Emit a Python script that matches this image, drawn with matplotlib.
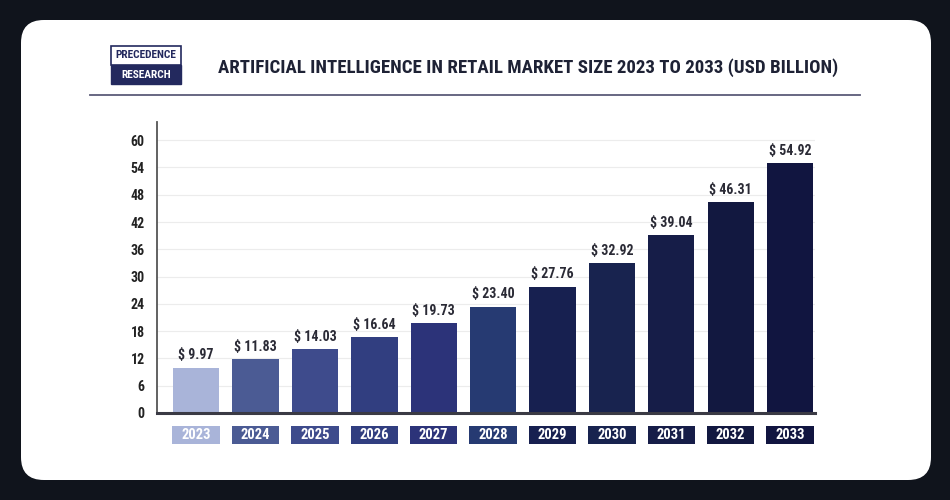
import matplotlib
matplotlib.use("Agg")
import matplotlib.pyplot as plt
from matplotlib import font_manager as fm
from matplotlib.patches import FancyBboxPatch, Rectangle
import matplotlib.transforms as mtransforms
import os

years = ["2023", "2024", "2025", "2026", "2027", "2028", "2029", "2030", "2031", "2032", "2033"]
values = [9.97, 11.83, 14.03, 16.64, 19.73, 23.40, 27.76, 32.92, 39.04, 46.31, 54.92]
bar_colors = ["#a9b4d9", "#4b5b94", "#3e4b8c", "#313e80", "#2c3379", "#263a72",
              "#172050", "#18234f", "#161d48", "#121840", "#111540"]
yticks = [0, 6, 12, 18, 24, 30, 36, 42, 48, 54, 60]
title = "ARTIFICIAL INTELLIGENCE IN RETAIL MARKET SIZE 2023 TO 2033 (USD BILLION)"

# find a condensed bold font file
files = fm.findSystemFonts()
prefs = ["robotocondensed-bold", "opensans_condensed-bold", "opensanscondensed-bold",
         "liberationsansnarrow-bold", "dejavusanscondensed-bold", "notosans-condensedbold",
         "notosanscondensed-bold"]
cond_file = None
for p in prefs:
    for f in files:
        b = os.path.basename(f).lower().replace(" ", "")
        if b.startswith(p) and "italic" not in b and "oblique" not in b:
            cond_file = f
            break
    if cond_file:
        break
if cond_file is None:
    for f in files:
        b = os.path.basename(f).lower()
        if "condensed" in b and "bold" in b and "italic" not in b and "oblique" not in b:
            cond_file = f
            break

def FP(size):
    if cond_file:
        return fm.FontProperties(fname=cond_file, size=size)
    return fm.FontProperties(family="DejaVu Sans", weight="bold", stretch="condensed", size=size)

W, H = 950, 500
fig = plt.figure(figsize=(W / 100, H / 100), dpi=100)
fig.patch.set_facecolor("#10141c")

def fx(px):
    return px / W

def fy(py):
    return 1 - py / H

# white rounded card
card = FancyBboxPatch((fx(21), fy(480)), (931 - 21) / W, (480 - 20) / H,
                      boxstyle="round,pad=0,rounding_size=0.024",
                      transform=fig.transFigure, facecolor="white", edgecolor="none",
                      mutation_aspect=W / H, zorder=-10)
fig.patches.append(card)

# logo
navy = "#23295e"
fig.patches.append(Rectangle((fx(111), fy(84)), (181 - 111) / W, (84 - 65) / H,
                             transform=fig.transFigure, facecolor=navy, edgecolor=navy, lw=1, zorder=2))
fig.patches.append(Rectangle((fx(111), fy(65)), (181 - 111) / W, (65 - 46) / H,
                             transform=fig.transFigure, facecolor="white", edgecolor=navy, lw=1.2, zorder=2))
fig.text(fx(146), fy(55.5), "PRECEDENCE", color=navy, fontproperties=FP(8.2),
         ha="center", va="center", zorder=3)
fig.text(fx(146), fy(74.5), "RESEARCH", color="white", fontproperties=FP(8.2),
         ha="center", va="center", zorder=3)

# title
fig.text(fx(218), fy(68), title, color="#1e2235", fontproperties=FP(13.6),
         ha="left", va="center")

# underline
fig.add_artist(plt.Line2D([fx(90), fx(860)], [fy(95), fy(95)], transform=fig.transFigure,
                          color="#5c5c78", lw=1.3))

# axes
left, right = 157, 815
bottom, top = 413, 122
ax = fig.add_axes([fx(left), fy(bottom), (right - left) / W, (bottom - top) / H])
ax.set_facecolor("none")
x = list(range(len(years)))
ax.bar(x, values, width=0.78, color=bar_colors, zorder=3)
ax.set_xlim(-0.66, 10.42)
ax.set_ylim(0, 64)
ax.set_yticks(yticks)
ax.set_yticklabels([str(t) for t in yticks], fontproperties=FP(10), color="#222222")
ax.tick_params(axis="y", length=0, pad=9)
ax.set_xticks([])
ax.grid(axis="y", color="#ececec", lw=0.8, zorder=0)
for s in ["top", "right"]:
    ax.spines[s].set_visible(False)
ax.spines["left"].set_color("#555555")
ax.spines["left"].set_linewidth(1.3)
ax.spines["bottom"].set_color("#3a3a44")
ax.spines["bottom"].set_linewidth(2.2)
ax.spines["bottom"].set_zorder(4)

for xi, v in zip(x, values):
    ax.annotate(f"$ {v:.2f}", (xi, v), xytext=(0, 4), textcoords="offset points",
                ha="center", va="bottom", fontproperties=FP(10), color="#2a2a35")

trans = mtransforms.blended_transform_factory(ax.transData, ax.transAxes)
ah = bottom - top
y0 = -(444 - bottom) / ah
y1 = -(426 - bottom) / ah
for xi, yr, c in zip(x, years, bar_colors):
    ax.add_patch(Rectangle((xi - 0.4, y0), 0.8, y1 - y0, transform=trans,
                           facecolor=c, edgecolor="none", clip_on=False))
    ax.text(xi, (y0 + y1) / 2, yr, transform=trans, ha="center", va="center",
            color="white", fontproperties=FP(10.5))

fig.savefig("out.png", dpi=100, facecolor=fig.get_facecolor())
